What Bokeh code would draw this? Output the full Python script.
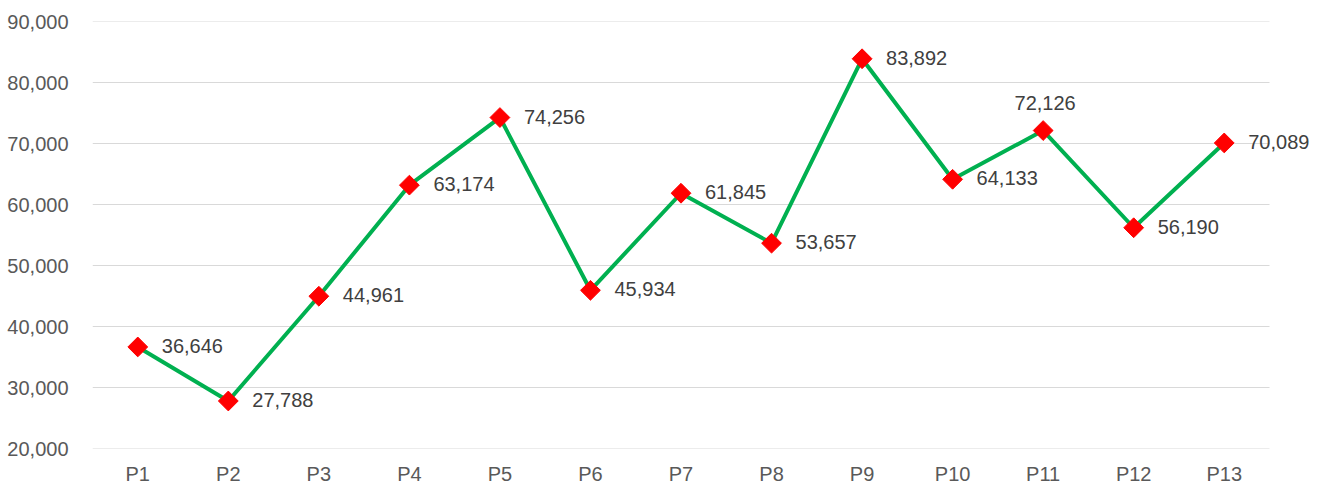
import math
from bokeh.plotting import figure
from bokeh.models import ColumnDataSource, Range1d, FixedTicker, NumeralTickFormatter, LabelSet
from bokeh.core.properties import value
from bokeh.embed import file_html
from bokeh.resources import INLINE

categories = ["P1", "P2", "P3", "P4", "P5", "P6", "P7", "P8", "P9", "P10", "P11", "P12", "P13"]
values = [36646, 27788, 44961, 63174, 74256, 45934, 61845, 53657, 83892, 64133, 72126, 56190, 70089]
y_ticks = [20000, 30000, 40000, 50000, 60000, 70000, 80000, 90000]
labels_above = ["P11"]

FONT = "Liberation Sans"
n = len(categories)
xs = list(range(1, n + 1))

LEFT, RIGHT, TOP, BOTTOM = 92, 5, 21, 39
W, H = 1331, 487
band_px = (1269 - LEFT) / n          # width of one category band
frame_w = W - LEFT - RIGHT
x_end = 0.5 + frame_w / band_px

p = figure(width=W, height=H, output_backend="svg", toolbar_location=None,
           x_range=Range1d(0.5, x_end),
           y_range=Range1d(y_ticks[0], y_ticks[-1]),
           min_border_left=LEFT, min_border_right=RIGHT, min_border_top=TOP, min_border_bottom=BOTTOM)
p.outline_line_color = None
p.background_fill_color = "white"
p.border_fill_color = "white"

p.xgrid.grid_line_color = None
p.ygrid.grid_line_color = None

# horizontal grid lines limited to the category area
p.segment(x0=[0.5] * len(y_ticks), x1=[n + 0.5] * len(y_ticks), y0=y_ticks, y1=y_ticks,
          line_color="#d9d9d9", line_width=1)

p.yaxis.ticker = FixedTicker(ticks=y_ticks)
p.yaxis.formatter = NumeralTickFormatter(format="0,0")
p.xaxis.ticker = FixedTicker(ticks=xs)
p.xaxis.major_label_overrides = {x: c for x, c in zip(xs, categories)}
for ax in (p.xaxis[0], p.yaxis[0]):
    ax.axis_line_color = None
    ax.major_tick_line_color = None
    ax.minor_tick_line_color = None
    ax.major_label_text_font = FONT
    ax.major_label_text_font_size = "20px"
    ax.major_label_text_color = "#595959"
p.yaxis.major_label_standoff = 18
p.xaxis.major_label_standoff = 8

src = ColumnDataSource(dict(x=xs, y=values))
p.line("x", "y", source=src, line_color="#00B050", line_width=4)
p.scatter("x", "y", source=src, marker="square", size=14, angle=math.pi / 4,
          fill_color="#FF0000", line_color="#FF0000")

right_idx = [i for i, c in enumerate(categories) if c not in labels_above]
above_idx = [i for i, c in enumerate(categories) if c in labels_above]
src_r = ColumnDataSource(dict(x=[xs[i] for i in right_idx], y=[values[i] for i in right_idx],
                              label=[f"{values[i]:,}" for i in right_idx]))
src_a = ColumnDataSource(dict(x=[xs[i] for i in above_idx], y=[values[i] for i in above_idx],
                              label=[f"{values[i]:,}" for i in above_idx]))
p.add_layout(LabelSet(x="x", y="y", text="label", source=src_r, x_offset=24, y_offset=1,
                      text_align="left", text_baseline="middle",
                      text_font=value(FONT), text_font_size=value("20px"), text_color="#404040"))
p.add_layout(LabelSet(x="x", y="y", text="label", source=src_a, x_offset=2, y_offset=21,
                      text_align="center", text_baseline="bottom",
                      text_font=value(FONT), text_font_size=value("20px"), text_color="#404040"))

open("out.html", "w").write(file_html(p, INLINE))
